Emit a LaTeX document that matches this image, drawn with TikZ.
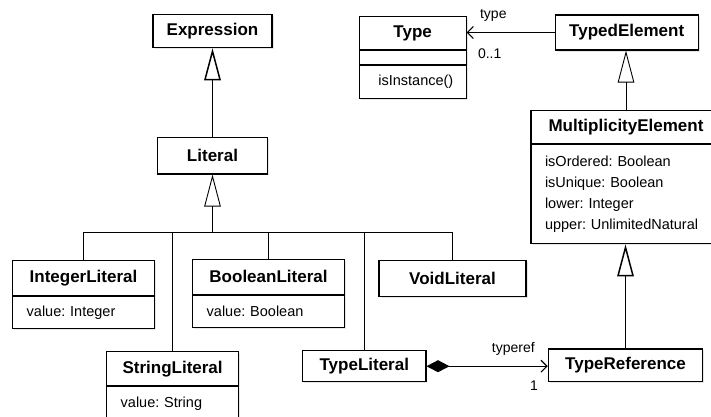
\documentclass[tikz,border=0pt]{standalone}
\usepackage{fontspec}
\setmainfont{Liberation Sans}
\frenchspacing
\usetikzlibrary{arrows.meta,shadows}

\begin{document}
\begin{tikzpicture}[x=1pt,y=-1pt,line width=1.1pt,>={Straight Barb[length=6pt,width=12pt]}]
	\tikzstyle{class}=[draw,fill=white,inner sep=0pt,font=\fontsize{17}{20}\selectfont\bfseries,drop shadow={shadow xshift=1.5pt,shadow yshift=-1.5pt,opacity=0.2}]
	\tikzstyle{attrs}=[draw,fill=white,anchor=north,align=left,inner xsep=14pt,inner ysep=0pt,font=\fontsize{14.5}{21}\selectfont,drop shadow={shadow xshift=1.5pt,shadow yshift=-1.5pt,opacity=0.2}]
	\tikzstyle{gen}=[-{Triangle[open,length=32pt,width=16.5pt]}]
	\tikzstyle{tree}=[line width=0.9pt]
	\tikzstyle{role}=[inner sep=0pt,font=\fontsize{14}{16}\selectfont]

	\useasboundingbox (0,0) rectangle (711,416);

	\node[class,minimum width=119pt,minimum height=33.4pt] (Expression) at (212.5,31) {Expression};
	\node[class,minimum width=110.6pt,minimum height=36.3pt] (Literal) at (212.5,155.8) {Literal};

	\node[class,minimum width=141.6pt,minimum height=34.3pt] (IntegerLiteral) at (83.5,277.9) {IntegerLiteral};
	\node[attrs,text width=113.6pt,minimum height=32.7pt] (IntegerAttrs) at (IntegerLiteral.south) {value: Integer};
	\node[class,minimum width=151.6pt,minimum height=34.7pt] (BooleanLiteral) at (268.5,276.7) {BooleanLiteral};
	\node[attrs,text width=123.6pt,minimum height=32pt] (BooleanAttrs) at (BooleanLiteral.south) {value: Boolean};
	\node[class,minimum width=131.8pt,minimum height=34pt] (StringLiteral) at (172.6,368.7) {StringLiteral};
	\node[attrs,text width=103.8pt,minimum height=33pt] (StringAttrs) at (StringLiteral.south) {value: String};
	\node[class,minimum width=123.3pt,minimum height=31pt] (TypeLiteral) at (364.3,366.2) {TypeLiteral};
	\node[class,minimum width=147pt,minimum height=36pt] (VoidLiteral) at (452.5,278.7) {VoidLiteral};

	\node[class,minimum width=106.7pt,minimum height=32.6pt] (Type) at (412.7,33) {Type};
	\node[attrs,text width=78.7pt,minimum height=14pt] (TypeAttrs) at (Type.south) {};
	\node[attrs,inner xsep=19pt,text width=68.7pt,minimum height=33.4pt] (TypeOps) at (TypeAttrs.south) {isInstance()};
	\node[class,minimum width=143.3pt,minimum height=35pt] (TypedElement) at (626.7,32.5) {TypedElement};
	\node[class,minimum width=190pt,minimum height=33.3pt] (MultiplicityElement) at (626,126.7) {MultiplicityElement};
	\node[attrs,text width=162pt,minimum height=99.4pt] (MultiplicityAttrs) at (MultiplicityElement.south) {isOrdered: Boolean\\isUnique: Boolean\\lower: Integer\\upper: UnlimitedNatural};
	\node[class,minimum width=154.4pt,minimum height=32.7pt] (TypeReference) at (625.5,365.3) {TypeReference};

	\draw[gen,line width=1.5pt] (Literal.north) -- (Expression.south);
	\coordinate (split) at (Literal.south |- 0,232.3);
	\draw[gen,tree] (split) -- (Literal.south);
	\foreach \c in {IntegerLiteral,StringLiteral,BooleanLiteral,TypeLiteral,VoidLiteral}
		\draw[tree] (\c.north) |- (split);

	\draw[gen,tree] (MultiplicityElement.north) -- (MultiplicityElement.north |- TypedElement.south);
	\draw[gen,line width=1.5pt] (TypeReference.north) -- (TypeReference.north |- MultiplicityAttrs.south);

	\draw[->] (TypedElement.west) -- (TypedElement.west -| Type.east);
	\node[role] (typeName) at (493.3,15.5) {type};
	\node[role] (typeMult) at (489.7,53.3) {0..1};

	\draw[{Diamond[length=23pt,width=12pt]}->] (TypeLiteral.east) -- (TypeLiteral.east -| TypeReference.west);
	\node[role] (typerefName) at (513.3,349) {typeref};
	\node[role] (typerefMult) at (534,385.7) {1};
\end{tikzpicture}
\end{document}
